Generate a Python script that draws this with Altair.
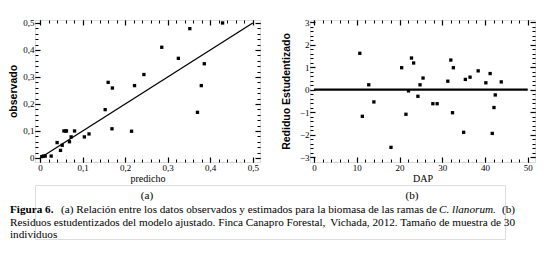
import altair as alt
import pandas as pd

# Panel (a): predicho vs observado
pred = [0.004, 0.008, 0.012, 0.026, 0.040, 0.048, 0.052, 0.056, 0.060, 0.062,
        0.069, 0.073, 0.081, 0.104, 0.115, 0.153, 0.160, 0.170, 0.169, 0.215,
        0.222, 0.244, 0.286, 0.325, 0.352, 0.370, 0.379, 0.386, 0.429]
obs = [0.005, 0.007, 0.007, 0.007, 0.057, 0.028, 0.047, 0.100, 0.100, 0.100,
       0.060, 0.078, 0.100, 0.078, 0.089, 0.179, 0.280, 0.259, 0.108, 0.099,
       0.268, 0.309, 0.410, 0.369, 0.479, 0.169, 0.268, 0.349, 0.500]
line_x = [0.0, 0.5]
line_y = [0.0, 0.5]

# Panel (b): DAP vs residuo estudentizado
dap = [10.7, 11.3, 12.8, 14.0, 18.0, 20.5, 21.5, 22.1, 22.8, 23.3,
       24.3, 24.8, 25.5, 27.8, 28.8, 31.3, 32.0, 32.4, 32.6, 35.0,
       35.4, 36.5, 38.4, 40.2, 41.2, 41.7, 42.1, 42.4, 43.8]
res = [1.61, -1.19, 0.21, -0.55, -2.57, 0.97, -1.10, -0.06, 1.40, 1.18,
       -0.30, 0.21, 0.51, -0.63, -0.63, 0.37, 1.31, -1.03, 0.97, -1.90,
       0.45, 0.55, 0.83, 0.30, 0.71, -1.95, -0.80, -0.24, 0.34]
zero_x = [0, 50]
zero_y = [0, 0]

# tick values
a_major = [0, 0.1, 0.2, 0.3, 0.4, 0.5]
a_minor = [0, 0.02, 0.04, 0.06, 0.08, 0.1, 0.12, 0.14, 0.16, 0.18, 0.2, 0.22, 0.24,
           0.26, 0.28, 0.3, 0.32, 0.34, 0.36, 0.38, 0.4, 0.42, 0.44, 0.46, 0.48, 0.5]
bx_major = [0, 10, 20, 30, 40, 50]
bx_minor = [0, 2, 4, 6, 8, 10, 12, 14, 16, 18, 20, 22, 24, 26, 28, 30, 32, 34, 36,
            38, 40, 42, 44, 46, 48, 50]
by_major = [-3, -2, -1, 0, 1, 2, 3]
by_minor = [-3, -2.8, -2.6, -2.4, -2.2, -2, -1.8, -1.6, -1.4, -1.2, -1, -0.8, -0.6,
            -0.4, -0.2, 0, 0.2, 0.4, 0.6, 0.8, 1, 1.2, 1.4, 1.6, 1.8, 2, 2.2, 2.4,
            2.6, 2.8, 3]

cap_fig = "Figura 6."
cap1 = "(a) Relación entre los datos observados y estimados para la biomasa de las ramas de"
cap1_it = "C. llanorum."
cap1_end = "(b)"
cap2a = "Residuos estudentizados del modelo ajustado. Finca Canapro Forestal,"
cap2b = "Vichada, 2012. Tamaño de muestra de 30"
cap3 = "individuos"

TICKFONT = "Liberation Sans Narrow"
comma = "datum.value == 0 ? '0' : replace(format(datum.value, '.1f'), '.', ',')"

W, H = 225, 142


def panel(df_pts, xf, yf, df_line, xdom, ydom, xmaj, xmin, ymaj, ymin,
          xtitle, ytitle, label_expr_x, label_expr_y, line_w, ytpad):
    xs = alt.Scale(domain=xdom, nice=False, zero=False)
    ys = alt.Scale(domain=ydom, nice=False, zero=False)
    base = alt.Chart(df_pts)
    pts = base.mark_square(size=11, color="black", opacity=1).encode(
        x=alt.X(f"{xf}:Q", scale=xs, axis=alt.Axis(
            orient="bottom", values=xmaj, offset=-5, tickSize=5, tickWidth=1.2,
            tickColor="black", domain=False, grid=False, labelPadding=1,
            labelExpr=label_expr_x, labelFont=TICKFONT, labelFontSize=9,
            labelColor="black", title=xtitle, titleFont=TICKFONT,
            titleFontSize=10, titleFontWeight="normal", titleColor="black",
            titlePadding=1)),
        y=alt.Y(f"{yf}:Q", scale=ys, axis=alt.Axis(
            orient="left", values=ymaj, offset=-5, tickSize=5, tickWidth=1.2,
            tickColor="black", domain=False, grid=False, labelPadding=1,
            labelExpr=label_expr_y, labelFont=TICKFONT, labelFontSize=9,
            labelColor="black", title=ytitle, titleFont="Liberation Sans",
            titleFontSize=10.5, titleFontWeight="bold", titleColor="black",
            titlePadding=ytpad)),
    )
    line = alt.Chart(df_line).mark_line(color="black", strokeWidth=line_w).encode(
        x=alt.X("lx:Q", scale=xs, axis=alt.Axis(
            orient="bottom", values=xmin, offset=-3, tickSize=3, tickColor="black",
            domain=False, grid=False, labels=False, title=None)),
        y=alt.Y("ly:Q", scale=ys, axis=alt.Axis(
            orient="left", values=ymin, offset=-3, tickSize=3, tickColor="black",
            domain=False, grid=False, labels=False, title=None)),
    )
    top_major = base.mark_point(opacity=0).encode(
        x=alt.X(f"{xf}:Q", scale=xs, axis=alt.Axis(
            orient="top", values=xmaj, offset=-5, tickSize=5, tickWidth=1.2,
            tickColor="black", domain=False, grid=False, labels=False, title=None)),
        y=alt.Y(f"{yf}:Q", scale=ys, axis=alt.Axis(
            orient="right", values=ymaj, offset=-5, tickSize=5, tickWidth=1.2,
            tickColor="black", domain=False, grid=False, labels=False, title=None)),
    )
    top_minor = base.mark_point(opacity=0).encode(
        x=alt.X(f"{xf}:Q", scale=xs, axis=alt.Axis(
            orient="top", values=xmin, offset=-3, tickSize=3, tickColor="black",
            domain=False, grid=False, labels=False, title=None)),
        y=alt.Y(f"{yf}:Q", scale=ys, axis=alt.Axis(
            orient="right", values=ymin, offset=-3, tickSize=3, tickColor="black",
            domain=False, grid=False, labels=False, title=None)),
    )
    return alt.layer(line, top_major, top_minor, pts).resolve_axis(
        x="independent", y="independent").properties(width=W, height=H)


dfa = pd.DataFrame({"predicho": pred, "observado": obs})
dfa_line = pd.DataFrame({"lx": line_x, "ly": line_y})
dfb = pd.DataFrame({"DAP": dap, "res": res})
dfb_line = pd.DataFrame({"lx": zero_x, "ly": zero_y})

int_expr = "format(datum.value, 'd')"

pa = panel(dfa, "predicho", "observado", dfa_line, [-0.012, 0.517], [-0.015, 0.511],
           a_major, a_minor, a_major, a_minor, "predicho", "observado",
           comma, comma, 1.3, 4)
pb = panel(dfb, "DAP", "res", dfb_line, [-0.95, 51.7], [-3.22, 3.09],
           bx_major, bx_minor, by_major, by_minor, "DAP", "Rediduo Estudentizado",
           int_expr, int_expr, 2.2, 8)

row = alt.hconcat(pa, pb, spacing=18)

SERIF = "Liberation Serif"
cap_df = pd.DataFrame({"k": [0]})
cbase = alt.Chart(cap_df)
FS = 11.2
OX = 33  # caption group origin (aligned with the left plot area)


def txt(t, x, y, weight="normal", style="normal", align="left"):
    return cbase.mark_text(text=t, font=SERIF, fontSize=FS, fontWeight=weight,
                           fontStyle=style, align=align, baseline="alphabetic",
                           color="black").encode(x=alt.value(x - OX), y=alt.value(y))


caption = alt.layer(
    txt("(a)", 145, 14, align="center"),
    txt("(b)", 410, 14, align="center"),
    txt(cap_fig, 8, 28, weight="bold"),
    txt(cap1, 59, 28),
    txt(cap1_it, 437, 28, style="italic"),
    txt(cap1_end, 513, 28, align="right"),
    txt(cap2a, 8, 41),
    txt(cap2b, 513, 41, align="right"),
    txt(cap3, 8, 53),
).properties(width=470, height=54)

chart = alt.vconcat(row, caption, spacing=0).configure_view(
    stroke="black", strokeWidth=1.6
).configure(padding={"left": 0, "top": 9, "right": 0, "bottom": 0}, background="white")

chart.save("out.html", embed_options={"renderer": "svg", "actions": False})
